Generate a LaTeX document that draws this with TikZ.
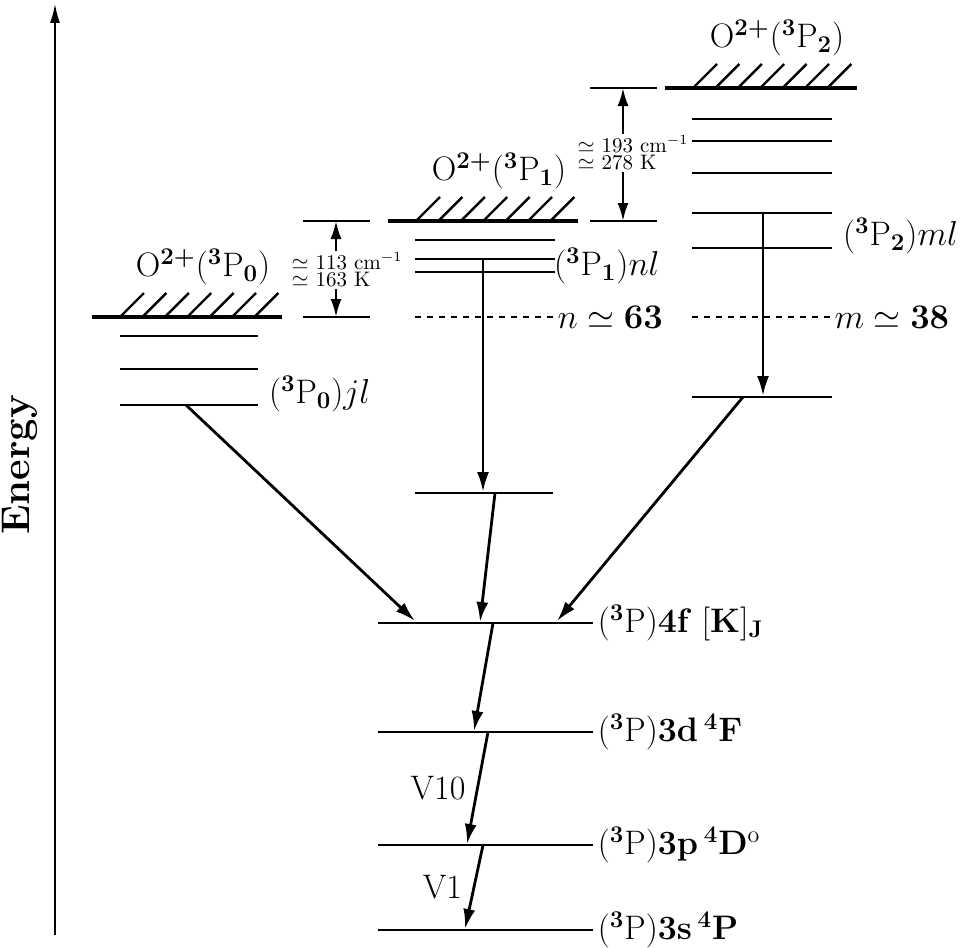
\documentclass[tikz,border=0pt]{standalone}
\usepackage{amsmath,amssymb}
\usetikzlibrary{arrows.meta}

\begin{document}
\begin{tikzpicture}[x=.5pt,y=-.5pt,font=\fontsize{17}{20}\selectfont,
    lvl/.style={line width=.9pt},
    hatch/.style={line width=1.2pt},
    limit/.style={line width=2.4pt},
    trans/.style={line width=1.4pt,-{Latex[length=10pt,width=6pt]}},
    gap/.style={line width=1.2pt,{Latex[length=9pt,width=5.5pt]}-{Latex[length=9pt,width=5.5pt]}},
    gaplbl/.style={fill=white,inner sep=1pt,align=left,font=\fontsize{10.5}{8.6}\selectfont}]
  \useasboundingbox (0,0) rectangle (961,947);
  % energy axis
  \coordinate (ax0) at (55,935); \coordinate (ax1) at (55,3);
  \draw[line width=1.3pt,-{Latex[length=10pt,width=5pt]}] (ax0) -- (ax1);
  \node[rotate=90,font=\fontsize{20}{24}\selectfont\bfseries] (energy) at (20,465) {Energy};
  % ionisation limits
  \foreach \xa/\xb/\y/\j in {92/282/317/0, 388/578/221/1, 665/857/88/2}{
    \draw[limit] (\xa,\y) -- (\xb,\y);
    \foreach \k in {0,...,6}{\draw[hatch] (\xa+28+22.4*\k,\y) -- ++(24,-24);}
    \node (ion\j) at ({(\xa+\xb)/2+16},\y-50) {O$^{\boldsymbol{2+}}$($^{\mathbf{3}}$P$_{\mathbf{\j}}$)};
  }
  % Rydberg series
  \foreach \y in {336,369,405}{\draw[lvl] (120,\y) -- (258,\y);}
  \foreach \y in {240,259,272}{\draw[lvl] (415,\y) -- (555,\y);}
  \foreach \y in {119,141,173,213,248}{\draw[lvl] (692,\y) -- (832,\y);}
  \node[anchor=west] (jl) at (262,394) {($^{\mathbf{3}}$P$_{\mathbf{0}}$)$jl$};
  \node[anchor=west] (nl) at (547,266) {($^{\mathbf{3}}$P$_{\mathbf{1}}$)$nl$};
  \node[anchor=west] (ml) at (836,236) {($^{\mathbf{3}}$P$_{\mathbf{2}}$)$ml$};
  \draw[dashed,line width=.6pt] (415,317) -- (555,317) node[anchor=west,inner sep=1pt] (nval) {$n\simeq\mathbf{63}$};
  \draw[dashed,line width=.6pt] (692,317) -- (832,317) node[anchor=west,inner sep=1pt] (mval) {$m\simeq\mathbf{38}$};
  % fine-structure gaps
  \foreach \y in {221,317}{\draw[lvl] (303,\y) -- (370,\y);}
  \foreach \y in {88,221}{\draw[lvl] (590,\y) -- (657,\y);}
  \coordinate (g1t) at (336,221); \coordinate (g1b) at (336,317);
  \coordinate (g2t) at (623,88);  \coordinate (g2b) at (623,221);
  \draw[gap] (g1t) -- (g1b);
  \draw[gap] (g2t) -- (g2b);
  \node[gaplbl] (gap1) at (347,270) {$\simeq$ 113 cm$^{-1}$\\$\simeq$ 163 K};
  \node[gaplbl] (gap2) at (633,153) {$\simeq$ 193 cm$^{-1}$\\$\simeq$ 278 K};
  % intermediate levels
  \draw[lvl] (415,493) -- (553,493);
  \draw[lvl] (692,397) -- (832,397);
  % low-lying levels
  \foreach \y/\lbl in {623/{\textbf{4f} [\textbf{K}]$_{\mathbf{J}}$},
                      732/{\textbf{3d}\,$^{\mathbf{4}}$\textbf{F}},
                      845/{\textbf{3p}\,$^{\mathbf{4}}$\textbf{D}$^{\mathrm{o}}$},
                      930/{\textbf{3s}\,$^{\mathbf{4}}$\textbf{P}}}{
    \draw[lvl] (378,\y) -- (593,\y) node[anchor=west,inner sep=2pt] {($^{\mathbf{3}}$P)\lbl};
  }
  % cascade
  \coordinate (j0) at (186,405); \coordinate (f0) at (415,621);
  \coordinate (n0) at (483,259); \coordinate (n1) at (483,492);
  \coordinate (n2) at (495,493); \coordinate (f1) at (480,622);
  \coordinate (m0) at (763,213); \coordinate (m1) at (763,396);
  \coordinate (m2) at (743,397); \coordinate (f2) at (557,621);
  \coordinate (f3) at (493,623); \coordinate (d0) at (474,731);
  \coordinate (d1) at (488,732); \coordinate (p0) at (467,844);
  \coordinate (p1) at (483,845); \coordinate (s0) at (465,929);
  \draw[trans] (j0) -- (f0);
  \draw[trans] (n0) -- (n1);
  \draw[trans] (n2) -- (f1);
  \draw[trans] (m0) -- (m1);
  \draw[trans] (m2) -- (f2);
  \draw[trans] (f3) -- (d0);
  \draw[trans] (d1) -- (p0) node[midway,left=2pt] (v10) {V10};
  \draw[trans] (p1) -- (s0) node[midway,left=2pt] (v1) {V1};
\end{tikzpicture}
\end{document}
